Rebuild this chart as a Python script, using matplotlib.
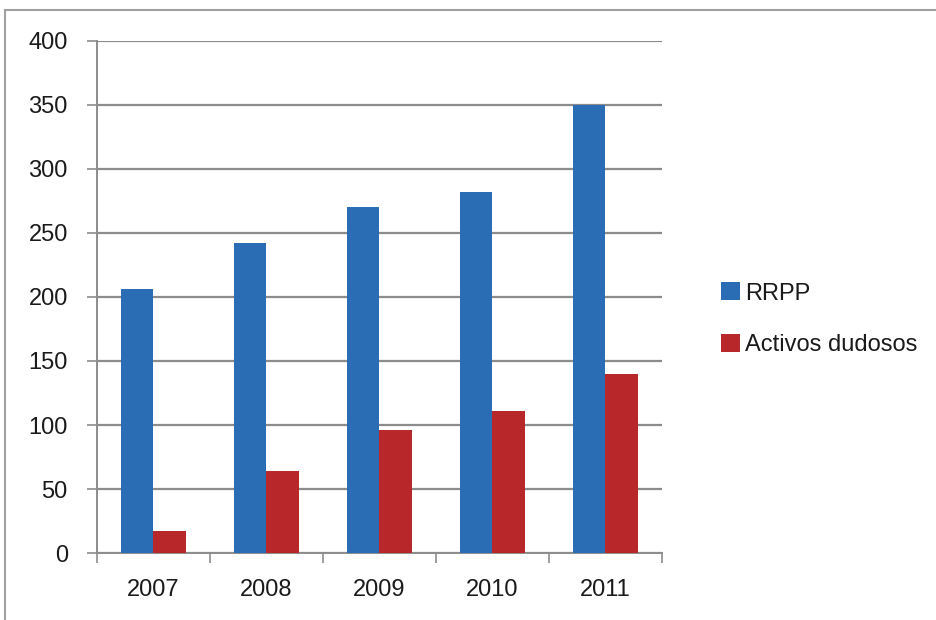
import matplotlib
matplotlib.use("Agg")
import matplotlib.pyplot as plt
from matplotlib.patches import Rectangle
import numpy as np

years = ["2007", "2008", "2009", "2010", "2011"]
rrpp = [206, 242, 270, 282, 350]
activos = [17, 64, 96, 111, 140]

plt.rcParams['font.family'] = ['Liberation Sans Narrow', 'Liberation Sans', 'DejaVu Sans']

fig = plt.figure(figsize=(9.36, 6.2), dpi=100)
ax = fig.add_axes([0.1036, 0.108, 0.6034, 0.826])

x = np.arange(len(years))
w = 0.29
ax.bar(x - w / 2, rrpp, width=w, color='#2a6db5', label='RRPP', zorder=3)
ax.bar(x + w / 2, activos, width=w, color='#b8282a', label='Activos dudosos', zorder=3)

ax.set_ylim(0, 400)
ax.set_xlim(-0.5, len(years) - 0.5)
ax.set_yticks(range(0, 401, 50))
ax.yaxis.grid(True, color='#8c8c8c', linewidth=1.6, zorder=0)

# category labels centred, tick marks on the boundaries
ax.set_xticks(x)
ax.set_xticklabels(years)
ax.set_xticks(np.arange(-0.5, len(years)), minor=True)
ax.tick_params(axis='x', which='major', length=0, pad=19, labelsize=17, labelcolor='#1a1a1a')
ax.tick_params(axis='x', which='minor', length=7, width=1.2, color='#8c8c8c')
ax.tick_params(axis='y', length=7, width=1.2, color='#8c8c8c', pad=14, labelsize=17,
               labelcolor='#1a1a1a')

for s in ['top', 'right']:
    ax.spines[s].set_visible(False)
for s in ['left', 'bottom']:
    ax.spines[s].set_color('#8c8c8c')
    ax.spines[s].set_linewidth(1.4)

fig.legend(loc='center left', bbox_to_anchor=(0.748, 0.485), frameon=False,
           fontsize=17, handlelength=0.8, handleheight=0.8, labelcolor='#1a1a1a',
           handletextpad=0.2, labelspacing=1.25)

# outer chart border
fig.patches.append(Rectangle((5 / 936, -0.02), 1.1, 1.004,
                             transform=fig.transFigure, fill=False,
                             edgecolor='#a0a0a0', linewidth=1.5))

fig.savefig("out.png", dpi=100)
